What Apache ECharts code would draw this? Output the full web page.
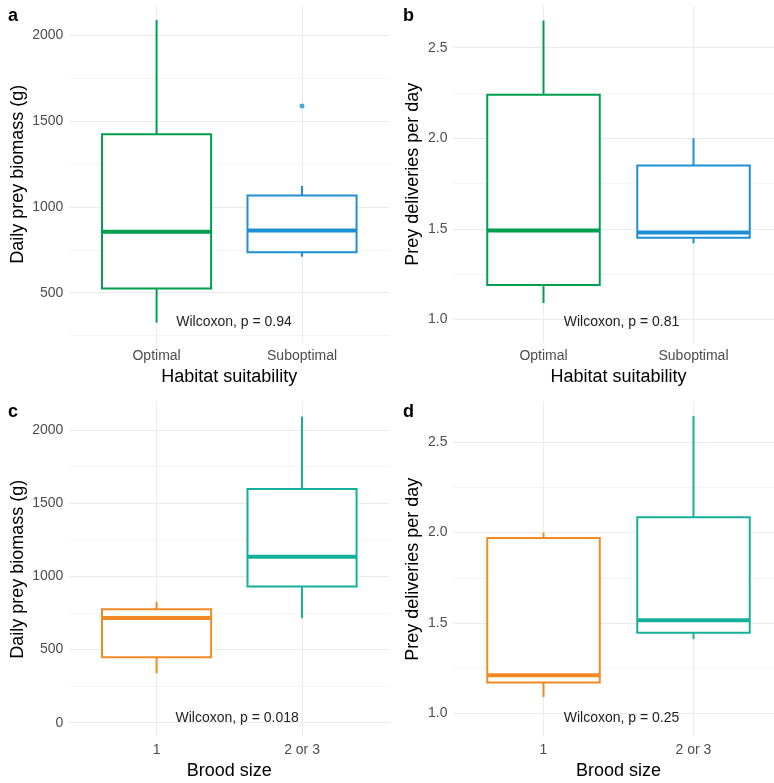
<!DOCTYPE html>
<html>
<head>
<meta charset="utf-8">
<script src="https://cdn.jsdelivr.net/npm/echarts@6/dist/echarts.min.js"></script>
<style>
  html, body { margin: 0; padding: 0; background: #fff; }
  #chart { width: 774px; height: 783px; }
</style>
</head>
<body>
<div id="chart"></div>
<script>
// categories
const habitatCats = ['Optimal', 'Suboptimal']
const broodCats = ['1', '2 or 3']

// box stats: [low whisker, q1, median, q3, high whisker]
const habitatBiomass = [
  [326, 524, 855, 1423, 2088],
  [710, 736, 862, 1066, 1122]
]
const habitatBiomassOutliers = [[2, 1588]]
const habitatDeliveries = [
  [1.09, 1.19, 1.49, 2.24, 2.65],
  [1.42, 1.45, 1.48, 1.85, 2.0]
]
const broodBiomass = [
  [338, 447, 716, 775, 827],
  [714, 930, 1134, 1597, 2092]
]
const broodDeliveries = [
  [1.09, 1.17, 1.21, 1.97, 2.0],
  [1.41, 1.445, 1.515, 2.085, 2.645]
]

// test labels: [x position, y position, text]
const pLabels = [
  [1.135, 330, 'Wilcoxon, p = 0.94'],
  [1.135, 0.983, 'Wilcoxon, p = 0.81'],
  [1.13, 30, 'Wilcoxon, p = 0.018'],
  [1.135, 0.972, 'Wilcoxon, p = 0.25']
]
const panelLetters = ['a', 'b', 'c', 'd']

const habitatColors = ['#009e4f', '#1f8fd3']
const broodColors = ['#f08a24', '#14b09a']

const FONT = '"Liberation Sans", Arial, sans-serif'
const GRID = '#ebebeb'
const MINOR = '#f4f4f4'

const panels = [
  { cats: habitatCats, boxes: habitatBiomass, outliers: habitatBiomassOutliers, colors: habitatColors,
    yName: 'Daily prey biomass (g)', xName: 'Habitat suitability', ymin: 209, ymax: 2172, major: 500,
    grid: { left: 69.3, top: 5.7, width: 320, height: 337 }, yGap: 42, letter: [8, 15] },
  { cats: habitatCats, boxes: habitatDeliveries, outliers: [], colors: habitatColors,
    yName: 'Prey deliveries per day', xName: 'Habitat suitability', ymin: 0.871, ymax: 2.732, major: 0.5,
    grid: { left: 453.5, top: 5.7, width: 330, height: 337 }, yGap: 31, letter: [403, 15] },
  { cats: broodCats, boxes: broodBiomass, outliers: [], colors: broodColors,
    yName: 'Daily prey biomass (g)', xName: 'Brood size', ymin: -96, ymax: 2194, major: 500,
    grid: { left: 69.3, top: 401.7, width: 320, height: 335 }, yGap: 42, letter: [8, 411] },
  { cats: broodCats, boxes: broodDeliveries, outliers: [], colors: broodColors,
    yName: 'Prey deliveries per day', xName: 'Brood size', ymin: 0.870, ymax: 2.725, major: 0.5,
    grid: { left: 453.5, top: 401.7, width: 330, height: 335 }, yGap: 31, letter: [403, 411] }
]

const isMult = (v, step) => Math.abs(v / step - Math.round(v / step)) < 1e-6

function boxRenderer(colors) {
  return function (params, api) {
    const x = api.value(0)
    const lo = api.coord([x, api.value(1)])
    const q1 = api.coord([x, api.value(2)])
    const md = api.coord([x, api.value(3)])
    const q3 = api.coord([x, api.value(4)])
    const hi = api.coord([x, api.value(5)])
    const left = api.coord([x - 0.375, api.value(3)])[0]
    const right = api.coord([x + 0.375, api.value(3)])[0]
    const c = colors[params.dataIndex]
    return {
      type: 'group',
      children: [
        { type: 'line', shape: { x1: hi[0], y1: hi[1], x2: q3[0], y2: q3[1] }, style: { stroke: c, lineWidth: 2 } },
        { type: 'line', shape: { x1: lo[0], y1: lo[1], x2: q1[0], y2: q1[1] }, style: { stroke: c, lineWidth: 2 } },
        { type: 'rect', shape: { x: left, y: q3[1], width: right - left, height: q1[1] - q3[1] },
          style: { fill: '#fff', stroke: c, lineWidth: 2 } },
        { type: 'line', shape: { x1: left, y1: md[1], x2: right, y2: md[1] }, style: { stroke: c, lineWidth: 4 } }
      ]
    }
  }
}

const option = { animation: false, grid: [], xAxis: [], yAxis: [], series: [], graphic: [] }

panels.forEach((p, i) => {
  option.grid.push(Object.assign({ containLabel: false, outerBoundsMode: 'none' }, p.grid))
  const minorStep = p.major / 2
  const fmtY = v => isMult(v, p.major) ? (p.major < 1 ? v.toFixed(1) : String(Math.round(v))) : ''

  option.xAxis.push({
    type: 'value', gridIndex: i, position: 'bottom', min: 0.4, max: 2.6, minInterval: 1, maxInterval: 1,
    name: p.xName, nameLocation: 'middle', nameGap: 25,
    nameTextStyle: { fontFamily: FONT, fontSize: 18, color: '#000' },
    axisLine: { show: false }, axisTick: { show: false },
    axisLabel: { margin: 6, fontFamily: FONT, fontSize: 14, color: '#4d4d4d',
      formatter: v => isMult(v, 1) ? (p.cats[Math.round(v) - 1] || '') : '' },
    splitLine: { show: true, showMinLine: false, showMaxLine: false, lineStyle: { color: GRID, width: 1 } }
  })
  // minor horizontal lines
  option.yAxis.push({
    type: 'value', gridIndex: i, position: 'left', min: p.ymin, max: p.ymax,
    minInterval: minorStep, maxInterval: minorStep,
    axisLine: { show: false }, axisTick: { show: false }, axisLabel: { show: false },
    splitLine: { show: true, showMinLine: false, showMaxLine: false, lineStyle: { color: MINOR, width: 1 } }
  })
  // major horizontal lines and labels
  option.yAxis.push({
    type: 'value', gridIndex: i, position: 'left', offset: 0, min: p.ymin, max: p.ymax,
    minInterval: p.major, maxInterval: p.major, z: 1,
    name: p.yName, nameLocation: 'middle', nameGap: p.yGap,
    nameTextStyle: { fontFamily: FONT, fontSize: 18, color: '#000' },
    axisLine: { show: false }, axisTick: { show: false },
    axisLabel: { margin: 6, fontFamily: FONT, fontSize: 14, color: '#4d4d4d', formatter: fmtY },
    splitLine: { show: true, showMinLine: false, showMaxLine: false, lineStyle: { color: GRID, width: 1 } }
  })

  const yIdx = i * 2 + 1
  option.series.push({
    type: 'custom', xAxisIndex: i, yAxisIndex: yIdx, z: 3,
    renderItem: boxRenderer(p.colors),
    encode: { x: 0, y: [1, 2, 3, 4, 5] },
    data: p.boxes.map((b, k) => [k + 1].concat(b))
  })
  if (p.outliers.length) {
    option.series.push({
      type: 'scatter', xAxisIndex: i, yAxisIndex: yIdx, z: 4, symbolSize: 5,
      itemStyle: { color: p.colors[1] },
      data: p.outliers
    })
  }
  option.series.push({
    type: 'custom', xAxisIndex: i, yAxisIndex: yIdx, z: 5,
    renderItem: (params, api) => {
      const pt = api.coord([pLabels[i][0], pLabels[i][1]])
      return { type: 'text', x: pt[0], y: pt[1],
        style: { text: pLabels[i][2], fill: '#222', font: '14px ' + FONT, align: 'left', verticalAlign: 'middle' } }
    },
    data: [[pLabels[i][0], pLabels[i][1]]]
  })

  option.graphic.push({
    type: 'text', left: p.letter[0], top: p.letter[1] - 8,
    style: { text: panelLetters[i], fill: '#000', font: 'bold 18px ' + FONT }
  })
})

const chart = echarts.init(document.getElementById('chart'))
chart.setOption(option)
</script>
</body>
</html>
